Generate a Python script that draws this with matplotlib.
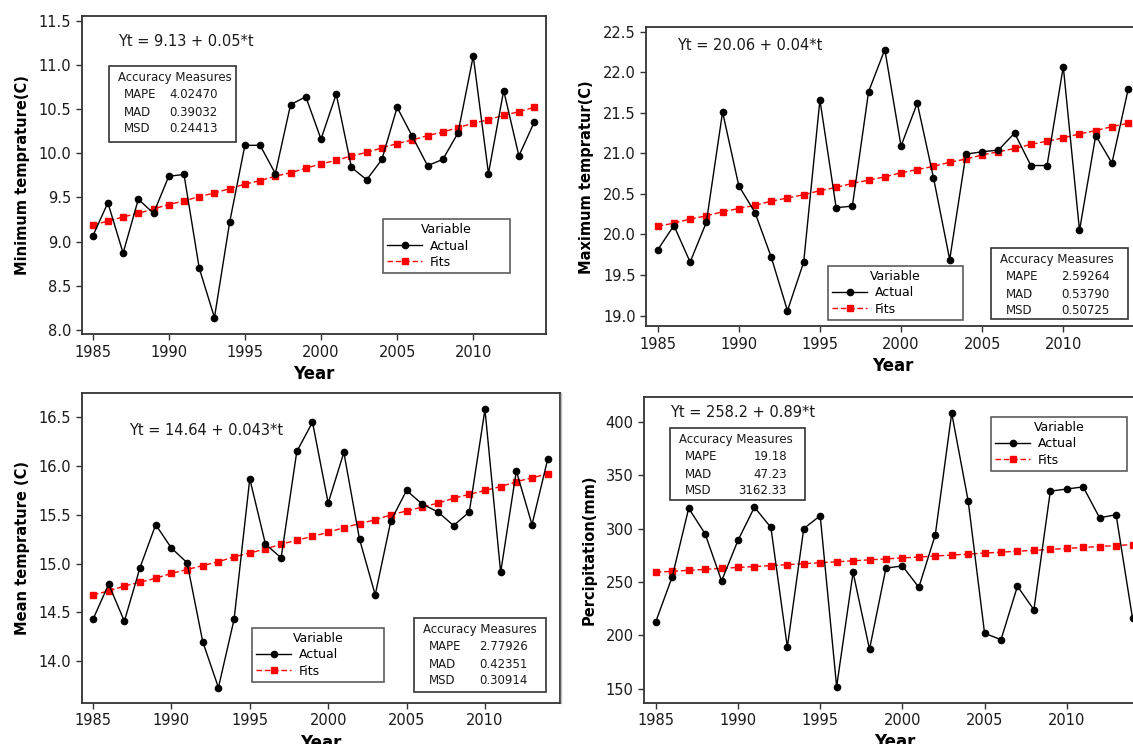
import matplotlib
matplotlib.use('Agg')
import matplotlib.pyplot as plt
from matplotlib.patches import Rectangle
from matplotlib.lines import Line2D
from matplotlib.ticker import MultipleLocator, FormatStrFormatter

years = list(range(1985, 2015))

tmin_actual = [9.06, 9.44, 8.87, 9.48, 9.32, 9.74, 9.76, 8.70, 8.14, 9.22,
               10.09, 10.09, 9.77, 10.55, 10.64, 10.16, 10.67, 9.84, 9.70, 9.93,
               10.52, 10.19, 9.86, 9.93, 10.23, 11.10, 9.77, 10.71, 9.97, 10.35]
tmin_fits = [9.19, 9.23, 9.28, 9.32, 9.37, 9.42, 9.46, 9.51, 9.55, 9.60,
             9.65, 9.69, 9.74, 9.78, 9.83, 9.88, 9.92, 9.97, 10.01, 10.06,
             10.11, 10.15, 10.20, 10.24, 10.29, 10.34, 10.38, 10.43, 10.47, 10.52]

tmax_actual = [19.81, 20.11, 19.66, 20.15, 21.51, 20.60, 20.27, 19.72, 19.06, 19.66,
               21.66, 20.33, 20.35, 21.76, 22.28, 21.09, 21.62, 20.70, 19.69, 20.99,
               21.02, 21.04, 21.25, 20.85, 20.85, 22.07, 20.05, 21.22, 20.88, 21.79]
tmax_fits = [20.10, 20.14, 20.19, 20.23, 20.28, 20.32, 20.36, 20.41, 20.45, 20.49,
             20.54, 20.58, 20.63, 20.67, 20.71, 20.76, 20.80, 20.84, 20.89, 20.93,
             20.98, 21.02, 21.06, 21.11, 21.15, 21.19, 21.24, 21.28, 21.33, 21.37]

tmean_actual = [14.43, 14.79, 14.41, 14.96, 15.40, 15.16, 15.01, 14.20, 13.73, 14.43,
                15.87, 15.20, 15.06, 16.15, 16.45, 15.62, 16.14, 15.25, 14.68, 15.44,
                15.75, 15.61, 15.53, 15.39, 15.53, 16.58, 14.91, 15.95, 15.40, 16.07]
tmean_fits = [14.68, 14.72, 14.77, 14.81, 14.85, 14.90, 14.94, 14.98, 15.02, 15.07,
              15.11, 15.15, 15.20, 15.24, 15.28, 15.32, 15.37, 15.41, 15.45, 15.50,
              15.54, 15.58, 15.62, 15.67, 15.71, 15.75, 15.79, 15.84, 15.88, 15.92]

precip_actual = [213, 255, 319, 295, 251, 289, 320, 301, 189, 300,
                 312, 152, 259, 187, 263, 265, 245, 294, 408, 326,
                 202, 196, 246, 224, 335, 337, 339, 310, 313, 216]
precip_fits = [259.1, 260.0, 260.9, 261.8, 262.7, 263.6, 264.4, 265.3, 266.2, 267.1,
               268.0, 268.9, 269.8, 270.7, 271.6, 272.5, 273.4, 274.3, 275.2, 276.1,
               277.0, 277.9, 278.8, 279.6, 280.5, 281.4, 282.3, 283.2, 284.1, 285.0]

ylabels = ['Minimum temprature(C)', 'Maximum tempratur(C)',
           'Mean temprature (C)', 'Percipitation(mm)']
equations = ['Yt = 9.13 + 0.05*t', 'Yt = 20.06 + 0.04*t',
             'Yt = 14.64 + 0.043*t', 'Yt = 258.2 + 0.89*t']
acc_names = ['MAPE', 'MAD', 'MSD']
acc_values = [['4.02470', '0.39032', '0.24413'],
              ['2.59264', '0.53790', '0.50725'],
              ['2.77926', '0.42351', '0.30914'],
              ['19.18', '47.23', '3162.33']]

W, H = 1133, 744
plt.rcParams['font.family'] = 'DejaVu Sans'
fig = plt.figure(figsize=(W / 100, H / 100), dpi=100)


def fx(x):
    return x / W


def fy(y):
    return 1 - y / H


# axes boxes in pixels: left, top, right, bottom
boxes = [(81.7, 15.7, 545.7, 334.3), (646, 27.3, 1140.5, 326.3),
         (81.7, 392.7, 559.6, 703), (644, 396.7, 1145, 702.5)]
ylims = [(7.951, 11.557), (18.868, 22.554), (13.572, 16.752), (137.2, 423.4)]
ysteps = [0.5, 0.5, 0.5, 50]
yfmt = ['%.1f', '%.1f', '%.1f', '%d']
eq_pos = [(118, 42), (677, 46), (129, 430), (670, 413)]
acc_box = [(109, 66, 127, 76), (991, 248, 137, 71), (414, 618, 132, 74), (670, 428, 135, 72)]
leg_box = [(383, 219, 127, 57), (828, 266, 135, 55), (252, 628, 132, 57), (991, 417, 136, 55)]

series = [(tmin_actual, tmin_fits), (tmax_actual, tmax_fits),
          (tmean_actual, tmean_fits), (precip_actual, precip_fits)]

for i, (act, fit) in enumerate(series):
    l, t, r, b = boxes[i]
    ax = fig.add_axes([fx(l), fy(b), (r - l) / W, (b - t) / H])
    ax.plot(years, act, color='black', lw=1.0, marker='o', ms=4.5, label='Actual', zorder=3)
    ax.plot(years, fit, color='red', lw=1.0, ls=(0, (4, 2)), marker='s', ms=5,
            label='Fits', zorder=2)
    ax.set_xlim(1984.28, 2014.76)
    ax.set_ylim(*ylims[i])
    ax.xaxis.set_major_locator(MultipleLocator(5))
    ax.yaxis.set_major_locator(MultipleLocator(ysteps[i]))
    ax.yaxis.set_major_formatter(FormatStrFormatter(yfmt[i]))
    ax.tick_params(direction='out', length=4, width=1, labelsize=10.5,
                   colors='#333333', labelcolor='#1a1a1a')
    for s in ax.spines.values():
        s.set_color('#333333')
        s.set_linewidth(1.3)
    ax.set_xlabel('Year', fontsize=12, fontweight='bold', labelpad=4)
    ax.set_ylabel(ylabels[i], fontsize=10.5, fontweight='bold', labelpad=6)

    ex, ey = eq_pos[i]
    fig.text(fx(ex), fy(ey), equations[i], fontsize=10.5, color='#1a1a1a',
             ha='left', va='center')

    bx, by, bw, bh = acc_box[i]
    fig.add_artist(Rectangle((fx(bx), fy(by + bh)), bw / W, bh / H, transform=fig.transFigure,
                             facecolor='white', edgecolor='#333333', lw=1.2, zorder=5))
    fig.text(fx(bx + 9), fy(by + 12), 'Accuracy Measures', fontsize=8.5,
             color='#1a1a1a', ha='left', va='center', zorder=6)
    for k, name in enumerate(acc_names):
        yy = by + 29 + k * 17
        fig.text(fx(bx + 15), fy(yy), name, fontsize=8.5, color='#1a1a1a',
                 ha='left', va='center', zorder=6)
        fig.text(fx(bx + bw - 18), fy(yy), acc_values[i][k], fontsize=8.5,
                 color='#1a1a1a', ha='right', va='center', zorder=6)

    lx, ly, lw_, lh = leg_box[i]
    leg = ax.legend(title='Variable', loc='upper left', mode='expand',
                    bbox_to_anchor=(fx(lx), fy(ly), lw_ / W, 0),
                    bbox_transform=fig.transFigure, fontsize=9, title_fontsize=9,
                    frameon=True, fancybox=False, edgecolor='#333333',
                    handlelength=2.8, handletextpad=0.6, labelspacing=0.25,
                    borderpad=0.35, borderaxespad=0)
    leg.get_frame().set_linewidth(1.2)

fig.add_artist(Line2D([fx(561), fx(561)], [fy(393), fy(703)], color='#c0c0c0', lw=1))

plt.savefig('out.png', dpi=100)
